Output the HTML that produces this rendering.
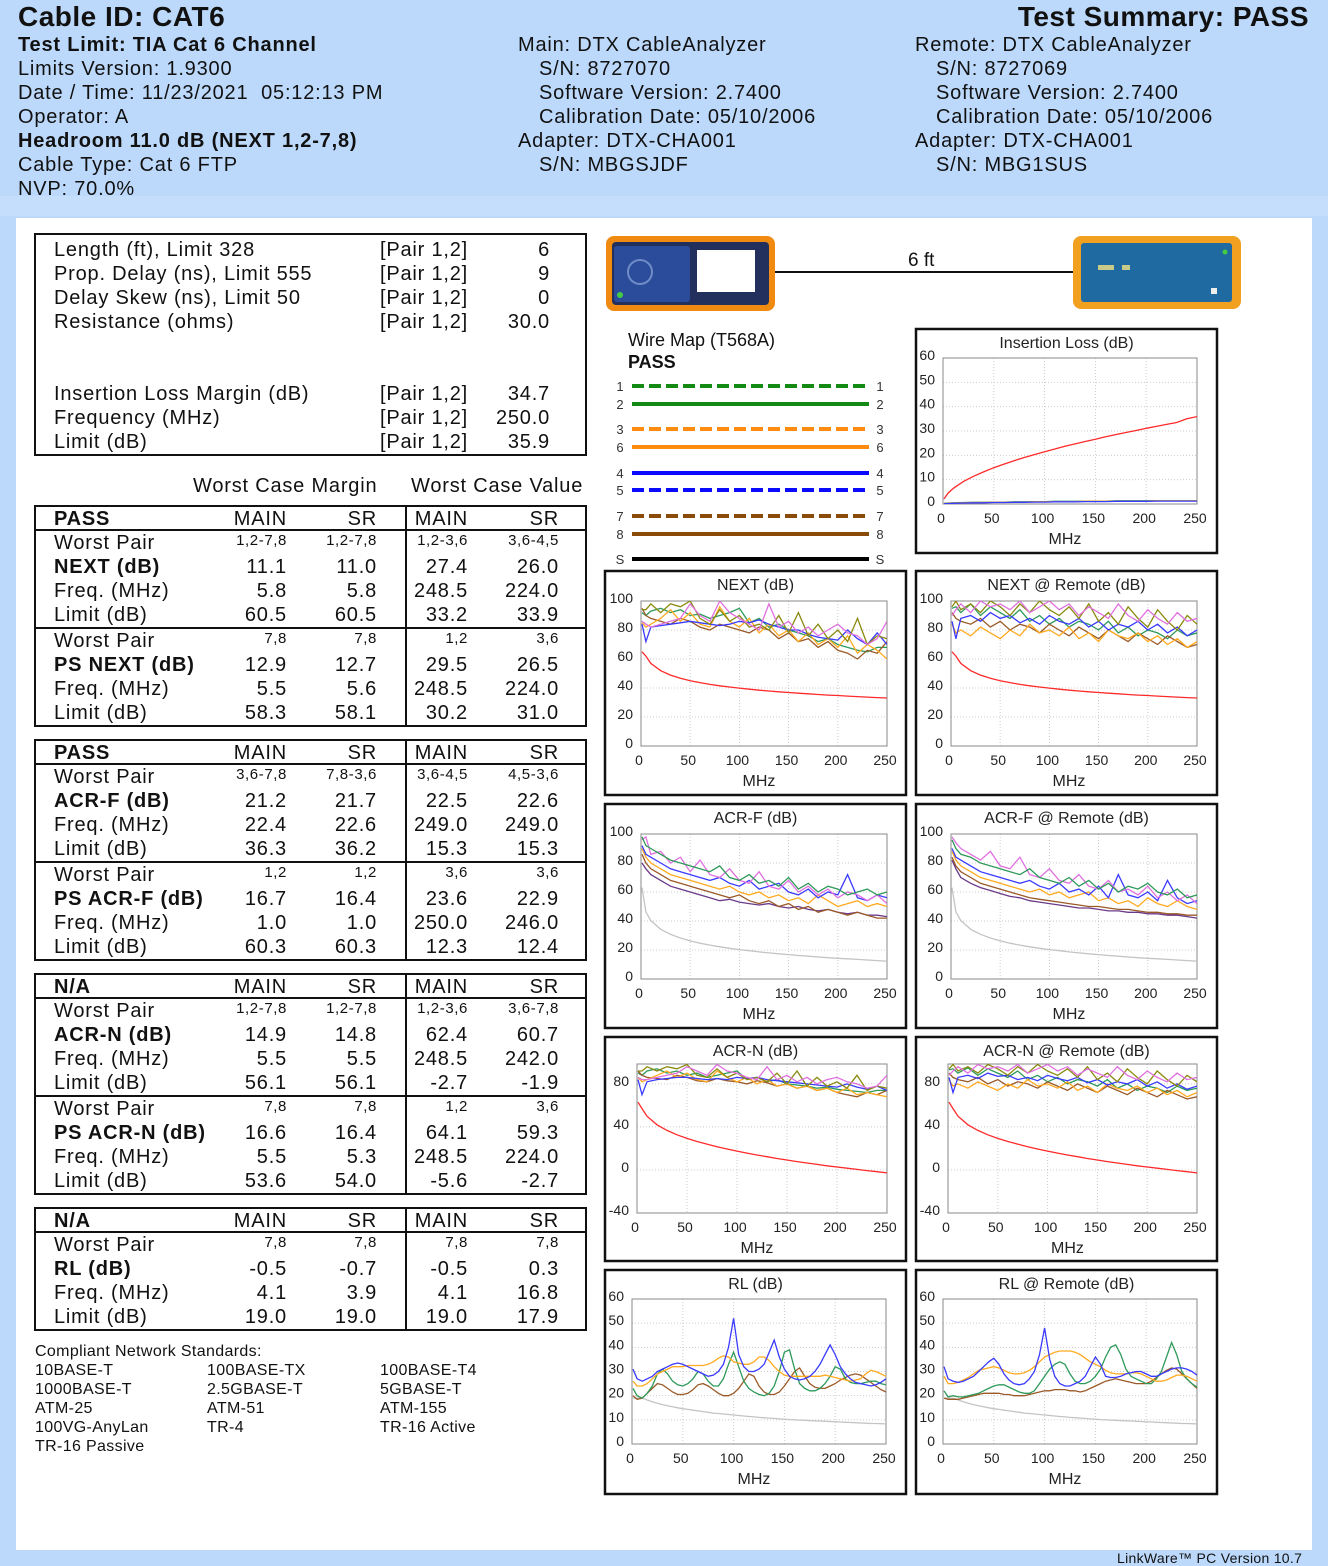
<!DOCTYPE html>
<html><head><meta charset="utf-8">
<style>
*{margin:0;padding:0;box-sizing:border-box}
body{width:1328px;height:1566px;background:#bcd9fb;font-family:"Liberation Sans",Arial,sans-serif;color:#111;position:relative;overflow:hidden}
.a{position:absolute;white-space:nowrap}
.h{font-size:20px;line-height:24px;letter-spacing:0.8px}
.b{font-weight:bold}
.blk{position:absolute;left:34px;width:553px;border:2px solid #111;background:#fff}
.row{position:relative;height:24px;font-size:20px;line-height:24px;letter-spacing:0.8px}
.hdr{border-bottom:2px solid #111}
.grp{border-bottom:2px solid #111}
.grp:last-child{border-bottom:none}
.row span{position:absolute;top:0}
.lb{left:18px}
.c1{right:298px}.c2{right:208px}.c3{right:117px}.c4{right:26px}
.sm{font-size:15px;line-height:20px;letter-spacing:0.6px}
.div{position:absolute;left:369px;top:0;bottom:0;width:2px;background:#111}
.std{font-size:16px;line-height:19px;letter-spacing:0.35px}
</style></head>
<body>
<div class="a" style="left:0;top:196px;width:1328px;height:20px;background:#c4defc"></div>
<div class="a" style="left:16px;top:218px;width:1296px;height:1332px;background:#fff"></div>

<div class="a b" style="left:18px;top:0;font-size:28px;line-height:34px;letter-spacing:0.5px">Cable ID: CAT6</div>
<div class="a b" style="right:19px;top:0;font-size:28px;line-height:34px;letter-spacing:0.5px">Test Summary: PASS</div>
<div class="a h" style="left:18px;top:33px">
<div class="b">Test Limit: TIA Cat 6 Channel</div><div>Limits Version: 1.9300</div><div>Date / Time: 11/23/2021&nbsp; 05:12:13 PM</div><div>Operator: A</div><div class="b">Headroom 11.0 dB (NEXT 1,2-7,8)</div><div>Cable Type: Cat 6 FTP</div><div>NVP: 70.0%</div></div>
<div class="a h" style="left:518px;top:33px">
<div>Main: DTX CableAnalyzer</div><div style="padding-left:21px">S/N: 8727070</div><div style="padding-left:21px">Software Version: 2.7400</div><div style="padding-left:21px">Calibration Date: 05/10/2006</div><div>Adapter: DTX-CHA001</div><div style="padding-left:21px">S/N: MBGSJDF</div></div>
<div class="a h" style="left:915px;top:33px">
<div>Remote: DTX CableAnalyzer</div><div style="padding-left:21px">S/N: 8727069</div><div style="padding-left:21px">Software Version: 2.7400</div><div style="padding-left:21px">Calibration Date: 05/10/2006</div><div>Adapter: DTX-CHA001</div><div style="padding-left:21px">S/N: MBG1SUS</div></div>

<div class="a" style="left:34px;top:233px;width:553px;height:223px;border:2px solid #111;background:#fff"></div>
<div class="a h" style="left:54px;top:238px"><div>Length (ft), Limit 328</div><div>Prop. Delay (ns), Limit 555</div><div>Delay Skew (ns), Limit 50</div><div>Resistance (ohms)</div><div style="height:48px"></div><div>Insertion Loss Margin (dB)</div><div>Frequency (MHz)</div><div>Limit (dB)</div></div>
<div class="a h" style="left:380px;top:238px"><div>[Pair 1,2]</div><div>[Pair 1,2]</div><div>[Pair 1,2]</div><div>[Pair 1,2]</div><div style="height:48px"></div><div>[Pair 1,2]</div><div>[Pair 1,2]</div><div>[Pair 1,2]</div></div>
<div class="a h" style="right:778px;top:238px;text-align:right"><div>6</div><div>9</div><div>0</div><div>30.0</div><div style="height:48px"></div><div>34.7</div><div>250.0</div><div>35.9</div></div>

<div class="a h" style="left:193px;top:474px">Worst Case Margin</div>
<div class="a h" style="left:411px;top:474px">Worst Case Value</div>

<!-- NEXT block -->
<div class="blk" style="top:505px">
<div class="div"></div>
<div class="row hdr"><span class="lb b">PASS</span><span class="c1">MAIN</span><span class="c2">SR</span><span class="c3">MAIN</span><span class="c4">SR</span></div>
<div class="grp"><div class="row"><span class="lb">Worst Pair</span><span class="c1 sm">1,2-7,8</span><span class="c2 sm">1,2-7,8</span><span class="c3 sm">1,2-3,6</span><span class="c4 sm">3,6-4,5</span></div>
<div class="row"><span class="lb b">NEXT (dB)</span><span class="c1">11.1</span><span class="c2">11.0</span><span class="c3">27.4</span><span class="c4">26.0</span></div>
<div class="row"><span class="lb">Freq. (MHz)</span><span class="c1">5.8</span><span class="c2">5.8</span><span class="c3">248.5</span><span class="c4">224.0</span></div>
<div class="row"><span class="lb">Limit (dB)</span><span class="c1">60.5</span><span class="c2">60.5</span><span class="c3">33.2</span><span class="c4">33.9</span></div></div>
<div class="grp"><div class="row"><span class="lb">Worst Pair</span><span class="c1 sm">7,8</span><span class="c2 sm">7,8</span><span class="c3 sm">1,2</span><span class="c4 sm">3,6</span></div>
<div class="row"><span class="lb b">PS NEXT (dB)</span><span class="c1">12.9</span><span class="c2">12.7</span><span class="c3">29.5</span><span class="c4">26.5</span></div>
<div class="row"><span class="lb">Freq. (MHz)</span><span class="c1">5.5</span><span class="c2">5.6</span><span class="c3">248.5</span><span class="c4">224.0</span></div>
<div class="row"><span class="lb">Limit (dB)</span><span class="c1">58.3</span><span class="c2">58.1</span><span class="c3">30.2</span><span class="c4">31.0</span></div></div>
</div>

<!-- ACR-F block -->
<div class="blk" style="top:739px">
<div class="div"></div>
<div class="row hdr"><span class="lb b">PASS</span><span class="c1">MAIN</span><span class="c2">SR</span><span class="c3">MAIN</span><span class="c4">SR</span></div>
<div class="grp"><div class="row"><span class="lb">Worst Pair</span><span class="c1 sm">3,6-7,8</span><span class="c2 sm">7,8-3,6</span><span class="c3 sm">3,6-4,5</span><span class="c4 sm">4,5-3,6</span></div>
<div class="row"><span class="lb b">ACR-F (dB)</span><span class="c1">21.2</span><span class="c2">21.7</span><span class="c3">22.5</span><span class="c4">22.6</span></div>
<div class="row"><span class="lb">Freq. (MHz)</span><span class="c1">22.4</span><span class="c2">22.6</span><span class="c3">249.0</span><span class="c4">249.0</span></div>
<div class="row"><span class="lb">Limit (dB)</span><span class="c1">36.3</span><span class="c2">36.2</span><span class="c3">15.3</span><span class="c4">15.3</span></div></div>
<div class="grp"><div class="row"><span class="lb">Worst Pair</span><span class="c1 sm">1,2</span><span class="c2 sm">1,2</span><span class="c3 sm">3,6</span><span class="c4 sm">3,6</span></div>
<div class="row"><span class="lb b">PS ACR-F (dB)</span><span class="c1">16.7</span><span class="c2">16.4</span><span class="c3">23.6</span><span class="c4">22.9</span></div>
<div class="row"><span class="lb">Freq. (MHz)</span><span class="c1">1.0</span><span class="c2">1.0</span><span class="c3">250.0</span><span class="c4">246.0</span></div>
<div class="row"><span class="lb">Limit (dB)</span><span class="c1">60.3</span><span class="c2">60.3</span><span class="c3">12.3</span><span class="c4">12.4</span></div></div>
</div>

<!-- ACR-N block -->
<div class="blk" style="top:973px">
<div class="div"></div>
<div class="row hdr"><span class="lb b">N/A</span><span class="c1">MAIN</span><span class="c2">SR</span><span class="c3">MAIN</span><span class="c4">SR</span></div>
<div class="grp"><div class="row"><span class="lb">Worst Pair</span><span class="c1 sm">1,2-7,8</span><span class="c2 sm">1,2-7,8</span><span class="c3 sm">1,2-3,6</span><span class="c4 sm">3,6-7,8</span></div>
<div class="row"><span class="lb b">ACR-N (dB)</span><span class="c1">14.9</span><span class="c2">14.8</span><span class="c3">62.4</span><span class="c4">60.7</span></div>
<div class="row"><span class="lb">Freq. (MHz)</span><span class="c1">5.5</span><span class="c2">5.5</span><span class="c3">248.5</span><span class="c4">242.0</span></div>
<div class="row"><span class="lb">Limit (dB)</span><span class="c1">56.1</span><span class="c2">56.1</span><span class="c3">-2.7</span><span class="c4">-1.9</span></div></div>
<div class="grp"><div class="row"><span class="lb">Worst Pair</span><span class="c1 sm">7,8</span><span class="c2 sm">7,8</span><span class="c3 sm">1,2</span><span class="c4 sm">3,6</span></div>
<div class="row"><span class="lb b">PS ACR-N (dB)</span><span class="c1">16.6</span><span class="c2">16.4</span><span class="c3">64.1</span><span class="c4">59.3</span></div>
<div class="row"><span class="lb">Freq. (MHz)</span><span class="c1">5.5</span><span class="c2">5.3</span><span class="c3">248.5</span><span class="c4">224.0</span></div>
<div class="row"><span class="lb">Limit (dB)</span><span class="c1">53.6</span><span class="c2">54.0</span><span class="c3">-5.6</span><span class="c4">-2.7</span></div></div>
</div>

<!-- RL block -->
<div class="blk" style="top:1207px">
<div class="div"></div>
<div class="row hdr"><span class="lb b">N/A</span><span class="c1">MAIN</span><span class="c2">SR</span><span class="c3">MAIN</span><span class="c4">SR</span></div>
<div class="grp"><div class="row"><span class="lb">Worst Pair</span><span class="c1 sm">7,8</span><span class="c2 sm">7,8</span><span class="c3 sm">7,8</span><span class="c4 sm">7,8</span></div>
<div class="row"><span class="lb b">RL (dB)</span><span class="c1">-0.5</span><span class="c2">-0.7</span><span class="c3">-0.5</span><span class="c4">0.3</span></div>
<div class="row"><span class="lb">Freq. (MHz)</span><span class="c1">4.1</span><span class="c2">3.9</span><span class="c3">4.1</span><span class="c4">16.8</span></div>
<div class="row"><span class="lb">Limit (dB)</span><span class="c1">19.0</span><span class="c2">19.0</span><span class="c3">19.0</span><span class="c4">17.9</span></div></div>
</div>

<div class="a std" style="left:35px;top:1342px">Compliant Network Standards:</div>
<div class="a std" style="left:35px;top:1361px"><div>10BASE-T</div><div>1000BASE-T</div><div>ATM-25</div><div>100VG-AnyLan</div><div>TR-16 Passive</div></div>
<div class="a std" style="left:207px;top:1361px"><div>100BASE-TX</div><div>2.5GBASE-T</div><div>ATM-51</div><div>TR-4</div></div>
<div class="a std" style="left:380px;top:1361px"><div>100BASE-T4</div><div>5GBASE-T</div><div>ATM-155</div><div>TR-16 Active</div></div>

<div class="a" style="left:1117px;top:1550px;font-size:14px;line-height:16px;letter-spacing:0.3px">LinkWare™ PC Version 10.7</div>

<svg id="svg" class="a" style="left:0;top:0" width="1328" height="1566" font-family="Liberation Sans, Arial, sans-serif">
 <g>
  <rect x="606" y="236" width="169" height="75" rx="8" fill="#f08a10"/>
  <rect x="612" y="242" width="157" height="63" rx="4" fill="#23305e"/>
  <rect x="614" y="246" width="76" height="56" rx="3" fill="#2a4c9a"/>
  <circle cx="640" cy="272" r="12" fill="none" stroke="#6f8cc8" stroke-width="2"/>
  <rect x="697" y="250" width="58" height="42" fill="#fff"/>
  <circle cx="620" cy="295" r="3" fill="#4c4"/>
 </g>
 <line x1="775" y1="272" x2="1073" y2="272" stroke="#111" stroke-width="2"/>
 <text x="908" y="266" font-size="19" fill="#111">6 ft</text>
 <g>
  <rect x="1073" y="236" width="168" height="73" rx="8" fill="#f2a020"/>
  <rect x="1081" y="243" width="151" height="59" rx="3" fill="#1f6aa0"/>
  <circle cx="1225" cy="252" r="2.5" fill="#4c4"/>
  <rect x="1098" y="265" width="16" height="5" fill="#c9c98a"/>
  <rect x="1122" y="265" width="8" height="5" fill="#c9c98a"/>
  <rect x="1211" y="288" width="6" height="6" fill="#eee"/>
 </g>
 <text x="628" y="346" font-size="18" fill="#111">Wire Map (T568A)</text>
 <text x="628" y="368" font-size="18" font-weight="bold" fill="#111">PASS</text>
 <g id="wiremap"></g>
 <g id="charts"></g>
</svg>

<script>
// ---------- Wire map data ----------
const wireLabels = ['1','2','3','6','4','5','7','8','S'];
const wireColors = ['#138a13','#138a13','#ff8c10','#ff8c10','#0a0aff','#0a0aff','#8a4a08','#8a4a08','#000'];
const wireDashed = [1,0,1,0,0,1,1,0,0];
const wireY = [386,404,429,447,473,490,516,534,559];

// ---------- Chart data ----------
const xTicks = [0,50,100,150,200,250];
const yTicksIL = [0,10,20,30,40,50,60];
const yTicksPct = [0,20,40,60,80,100];
const yTicksACRN = [-40,0,40,80];
const yTicksRL = [0,10,20,30,40,50,60];

const freqA = [1,5,10,20,30,40,50,60,70,80,90,100,110,120,130,140,150,160,170,180,190,200,210,220,230,240,250];
const rlFreq = [1,5,10,15,20,25,30,35,40,45,50,55,60,65,70,75,80,85,90,95,100,105,110,115,120,125,130,135,140,145,150,155,160,165,170,175,180,185,190,195,200,205,210,215,220,225,230,235,240,245,250];

const ilLimit = [2.1,4.5,6.4,9.2,11.4,13.2,14.9,16.4,17.8,19.1,20.3,21.5,22.6,23.7,24.7,25.7,26.6,27.6,28.5,29.4,30.2,31.1,31.9,32.7,33.5,35.0,35.9];
const ilBlue = [0.1,0.2,0.3,0.4,0.5,0.5,0.6,0.6,0.7,0.7,0.8,0.8,0.9,0.9,0.9,1.0,1.0,1.0,1.1,1.1,1.1,1.1,1.2,1.2,1.2,1.2,1.2];
const ilOrange = [0.2,0.3,0.4,0.5,0.6,0.6,0.7,0.7,0.8,0.8,0.9,0.9,1.0,1.0,1.0,1.1,1.1,1.1,1.2,1.2,1.2,1.2,1.3,1.3,1.3,1.3,1.3];
const ilGreen = [0.3,0.4,0.5,0.6,0.7,0.7,0.8,0.8,0.9,0.9,1.0,1.0,1.1,1.1,1.1,1.2,1.2,1.2,1.3,1.3,1.3,1.3,1.4,1.4,1.4,1.4,1.4];

const nextLimit = [65,62,57,51.9,48.9,46.7,45,43.7,42.5,41.5,40.7,39.9,39.2,38.5,37.9,37.4,36.9,36.4,36,35.5,35.1,34.8,34.4,34.1,33.7,33.4,33.1];
const nextBlue = [84,72,82,83,84,85,86,85,84,83,84,86,85,87,84,82,80,80,77,75,74,73,80,74,70,78,70];
const nextGreen = [92,90,93,95,92,94,90,91,88,90,92,95,85,88,82,84,80,78,76,72,74,70,68,66,65,68,68];
const nextOrange = [85,82,84,88,94,86,92,84,82,96,86,82,88,78,84,76,80,72,78,70,74,68,76,64,70,66,60];
const nextBrown = [95,90,88,86,84,88,86,82,80,84,82,80,78,82,80,74,78,72,74,68,72,66,64,60,66,64,72];
const nextOlive = [94,94,98,92,98,96,100,88,84,94,86,90,82,84,80,90,78,92,76,84,74,80,72,88,70,76,74];
const nextPink = [86,84,82,84,86,88,98,90,86,100,92,88,84,80,98,82,86,78,82,76,80,84,78,76,70,74,86];

const nextRBlue = [86,74,88,90,86,92,88,90,85,88,84,90,86,84,88,82,86,80,84,82,86,80,84,78,82,76,80];
const nextRGreen = [95,96,92,98,90,96,92,88,94,86,90,84,88,82,86,84,80,86,78,82,76,80,78,74,80,76,78];
const nextROrange = [84,78,80,76,82,78,74,80,76,84,78,80,76,82,74,78,72,80,76,74,78,72,76,70,74,68,72];
const nextRBrown = [92,88,86,84,88,82,86,80,84,82,78,84,80,76,82,78,74,80,76,72,78,74,70,76,72,68,70];
const nextROlive = [96,100,94,98,92,100,96,90,98,92,100,94,90,96,88,98,86,92,84,96,88,82,94,86,80,90,84];
const nextRPink = [90,94,98,92,100,96,98,94,100,92,96,100,94,98,90,96,92,88,98,90,86,94,88,84,92,86,88];

const acrfLimit = [63,46.3,40.3,34.3,30.8,28.3,26.3,24.7,23.4,22.2,21.2,20.3,19.5,18.7,18,17.4,16.8,16.2,15.7,15.2,14.7,14.3,13.9,13.5,13.1,12.7,12.3];
const acrfGreen = [98,92,90,86,82,80,78,76,74,78,70,68,72,66,68,64,70,62,66,60,64,62,58,60,62,58,60];
const acrfPink = [96,98,86,88,80,84,74,82,72,70,76,68,66,74,64,62,68,60,64,58,62,56,60,58,54,58,52];
const acrfBlue = [92,86,84,80,76,74,72,70,68,70,66,64,68,62,64,66,60,58,62,56,60,58,72,56,54,58,56];
const acrfOrange = [90,84,80,76,72,70,68,66,64,62,64,60,58,60,56,58,54,56,52,58,54,50,52,54,50,52,50];
const acrfBrown = [86,80,76,72,68,66,64,62,60,58,56,58,54,52,54,50,52,48,50,46,48,46,44,46,44,42,42];
const acrfPurple = [80,76,72,68,64,62,60,58,56,54,55,53,52,51,52,50,49,50,48,47,48,46,45,46,44,44,43];

const acrfRGreen = [96,90,86,84,80,78,76,74,72,76,70,68,66,70,64,68,62,66,60,64,62,66,60,58,62,56,58];
const acrfRPink = [98,94,90,86,82,88,78,76,84,72,70,76,68,66,72,64,62,68,60,62,58,64,56,60,54,58,52];
const acrfRBlue = [90,84,82,78,74,72,70,68,66,68,64,62,66,60,62,58,64,56,72,58,56,60,54,68,56,52,54];
const acrfROrange = [88,82,78,74,70,68,66,64,62,60,62,58,60,56,58,60,54,56,52,54,50,56,52,50,54,50,48];
const acrfRBrown = [84,78,74,70,66,64,62,60,58,56,55,54,53,52,51,50,50,49,48,48,47,46,46,45,45,44,44];
const acrfRPurple = [82,76,70,66,63,61,59,57,56,54,53,52,51,50,49,49,48,47,47,46,46,45,45,44,44,43,42];

const acrnLimit = [63,57,50,42,36.8,32.7,29.3,26.5,24,21.6,19.5,17.5,15.7,13.9,12.3,10.7,9.3,7.8,6.5,5.2,3.9,2.8,1.6,0.5,-0.6,-1.6,-2.7];
const acrnBlue = [84,70,82,84,85,86,86,85,84,85,84,86,85,86,84,83,82,81,80,79,78,77,80,77,75,78,74];
const acrnGreen = [90,88,92,94,90,92,88,90,86,88,90,92,84,86,82,84,80,79,78,76,77,75,74,73,72,74,74];
const acrnOrange = [86,82,84,88,92,86,90,84,82,92,86,82,86,80,84,78,80,76,78,74,76,72,76,70,72,70,68];
const acrnBrown = [92,88,86,85,84,88,86,83,82,85,83,82,80,83,81,78,80,76,78,74,76,72,70,68,72,70,74];
const acrnOlive = [92,92,96,92,96,94,98,88,86,94,86,90,84,86,82,90,80,92,78,86,78,82,76,88,74,78,76];
const acrnPink = [86,84,84,86,88,90,96,92,88,98,92,90,86,84,96,84,88,82,86,80,84,86,82,80,76,78,88];

const acrnRBlue = [86,72,86,88,85,90,87,88,84,86,83,88,85,83,86,81,84,79,82,80,84,78,82,76,80,75,78];
const acrnRGreen = [93,94,90,95,88,94,90,86,92,84,88,82,86,80,84,82,78,84,76,80,74,78,76,72,78,74,76];
const acrnROrange = [84,78,80,76,82,78,74,80,76,84,78,80,76,82,74,78,72,80,76,74,78,72,76,70,74,68,72];
const acrnRBrown = [90,86,84,82,86,80,84,78,82,80,76,82,78,74,80,76,72,78,74,70,76,72,68,74,70,66,68];
const acrnROlive = [94,98,92,96,90,98,94,88,96,90,98,92,88,94,86,96,84,90,82,94,86,80,92,84,78,88,82];
const acrnRPink = [88,92,96,90,98,94,96,92,98,90,94,98,92,96,88,94,90,86,96,88,84,92,86,82,90,84,86];

const rlLimit = [19,19,19,18.2,17.5,16.9,16.3,15.8,15.4,15,14.6,14.3,14,13.7,13.4,13.1,12.8,12.6,12.4,12.2,12,11.8,11.6,11.4,11.2,11,10.9,10.7,10.6,10.4,10.3,10.1,10,9.9,9.8,9.7,9.6,9.5,9.4,9.3,9.2,9.1,9,8.9,8.8,8.7,8.6,8.5,8.5,8.4,8.3];
const rlBlue = [31,27,26,27,28,30,31,32,33,33.5,33,32,31,30,29,28,28.5,30,33,40,52,37,32,30,30,31,33,38,43,36,31,28,27,26.5,27,28,30,33,37,41,37,32,29,27,25.5,25,24.5,24,24.5,25.5,27];
const rlOrange = [26,24,24,25,27,29,30,31,32,32,32,32.5,32.5,32.5,32.5,33,34,35.5,36.5,36,34,33.5,33,33,34,36,36,34.5,32,30,28.5,28,28,28,28,28,28,28,28.5,28,27.5,27,26.5,26,26.5,27,29,30.5,30,29,28];
const rlGreen = [23,20,19,21,24,29,31,29,26,24.5,24,25,27,30,29,26,24,24,27,33,38,32,26,23,21.5,20.5,20,21,24,30,38,39,31,25,23,22,22,23,25,28,32,31,27,25.5,25,25,25.5,26,26,25,24.5];
const rlBrown = [20,18.5,19,21,23,25,24.5,23,21.5,20.5,20.5,21,22.5,24.5,25,24,22.5,21,20,20,21,23,26,29,28,24,21.5,20.5,20.5,21.5,24,27,30,31.5,28,25,23.5,23,23,24,25,26.5,27.5,28.5,29,28.5,27,25.5,24,22.5,21.5];

const rlRBlue = [32,27,26,25.5,26,27,28,30,32,34,35.5,33,29,26.5,25,24.5,25,27,30,37,48,35,28,25,24,24,25,26,28,32,36,33,28,27.5,27.5,28,29,29.5,30,30,29,28,28,29,30,31,31.5,31.5,31,30,28.5];
const rlROrange = [28,25,25,25.5,26.5,27.5,29,30.5,31,31.5,32,31.5,30.5,29.5,29,29,29.5,30.5,32,34,36,37,38,38.5,38.5,38.5,38,37,35.5,34,33,32,30.5,29.5,29,29,29,29.5,29.5,29,28,27,26,26,26.5,27.5,28.5,28.5,28,27,26];
const rlRGreen = [22,19.5,20,19.5,19.5,20,20.5,21,22,23,24,24.5,24.5,23.5,22.5,21.5,21,21,22,25,28,31,33,34,33,29,26,25,25,26,28,31,36,40,41,37,31,28,27,26,25,25,27,30,36,42,37,30,27,25,23.5];
const rlRBrown = [19,18.5,18.5,18.5,19,19.5,20,20.5,21,21,21,21,20.5,20.5,20,20,20,20.5,21,21.5,22,22,22.5,22.5,22.5,22,22,21.5,22,23,24,25,26,26.5,27,26.5,26,25.5,25,25,25,26,27.5,29,30.5,31.5,31,29,27,25,23];

// ---------- Colors ----------
const C = {blue:'#3a3aff', green:'#2e9a5a', orange:'#ffaa20', brown:'#9a5a28', olive:'#8a8a10', pink:'#e070e0', purple:'#6a3a8a', red:'#ff2a2a', gray:'#c4c4c4'};

const NS = 'http://www.w3.org/2000/svg';
function mk(tag, attrs, parent){
  const e = document.createElementNS(NS, tag);
  for (const k in attrs) e.setAttribute(k, attrs[k]);
  if (parent) parent.appendChild(e);
  return e;
}

// Wire map
const wm = document.getElementById('wiremap');
for (let i = 0; i < wireLabels.length; i++) {
  const ln = mk('line', {x1:632, x2:869, y1:wireY[i], y2:wireY[i], stroke:wireColors[i], 'stroke-width':4}, wm);
  if (wireDashed[i]) ln.setAttribute('stroke-dasharray', '12 5');
  
  
  const t1 = mk('text', {x:620, y:wireY[i] + 5, 'font-size':13, 'text-anchor':'middle', fill:'#333'}, wm);
  t1.textContent = wireLabels[i];
  
  
  const t2 = mk('text', {x:880, y:wireY[i] + 5, 'font-size':13, 'text-anchor':'middle', fill:'#333'}, wm);
  t2.textContent = wireLabels[i];
  
  
}

// Charts
const chartsG = document.getElementById('charts');
let clipN = 0;
function chart(name, title, box, plot, yMin, yMax, yTicks, freq, series){
  const g = mk('g', {}, chartsG);
  
  
  const bx = mk('rect', {x:box[0]+1, y:box[1]+1, width:box[2]-2, height:box[3]-2, fill:'#fff', stroke:'#111', 'stroke-width':2.5}, g);
  
  
  const [x0,y0,x1,y1] = plot;
  const sx = f => x0 + f / 250 * (x1 - x0);
  const sy = v => y1 - (v - yMin) / (yMax - yMin) * (y1 - y0);
  const tt = mk('text', {x:(box[0]*2+box[2])/2, y:box[1]+20, 'font-size':16, 'text-anchor':'middle', fill:'#222'}, g);
  tt.textContent = title;
  
  
  for (const v of yTicks) {
    const gl = mk('line', {x1:x0, x2:x1, y1:sy(v), y2:sy(v), stroke:'#ccc', 'stroke-width':1, 'stroke-dasharray':'1 2'}, g);
    
    
    const tl = mk('text', {x:x0 - 8, y:sy(v) + 2, 'font-size':14, 'text-anchor':'end', fill:'#222'}, g);
    tl.textContent = v;
    
    
  }
  for (const f of xTicks) {
    const gl = mk('line', {x1:sx(f), x2:sx(f), y1:y0, y2:y1, stroke:'#ccc', 'stroke-width':1, 'stroke-dasharray':'1 2'}, g);
    
    
    const tl = mk('text', {x:sx(f) - 2, y:y1 + 19, 'font-size':14, 'text-anchor':'middle', fill:'#222'}, g);
    tl.textContent = f;
    
    
  }
  const fr = mk('rect', {x:x0, y:y0, width:x1-x0, height:y1-y0, fill:'none', stroke:'#888', 'stroke-width':1}, g);
  
  
  const xl = mk('text', {x:(x0+x1)/2 - 5, y:y1 + 40, 'font-size':16, 'text-anchor':'middle', fill:'#222'}, g);
  xl.textContent = 'MHz';
  
  
  const cid = 'clip' + (clipN++);
  const cp = mk('clipPath', {id:cid}, g);
  mk('rect', {x:x0, y:y0, width:x1-x0, height:y1-y0}, cp);
  for (const [arr, col] of series) {
    const pts = [];
    for (let i = 0; i < arr.length && i < freq.length; i++) pts.push(sx(freq[i]).toFixed(1) + ',' + sy(arr[i]).toFixed(1));
    const pl = mk('polyline', {points:pts.join(' '), fill:'none', stroke:col, 'stroke-width':1.3, 'clip-path':'url(#' + cid + ')'}, g);
    
    
  }
}

chart('insertion-loss-chart', 'Insertion Loss (dB)', [915,328,303,226], [943,358,1197,504], 0, 60, yTicksIL, freqA,
  [[ilLimit,C.red],[ilGreen,C.green],[ilOrange,C.orange],[ilBlue,C.blue]]);
chart('next-chart', 'NEXT (dB)', [604,570,303,226], [641,601,887,746], 0, 100, yTicksPct, freqA,
  [[nextLimit,C.red],[nextGreen,C.green],[nextBrown,C.brown],[nextOrange,C.orange],[nextBlue,C.blue],[nextOlive,C.olive],[nextPink,C.pink]]);
chart('next-remote-chart', 'NEXT @ Remote (dB)', [915,570,303,226], [951,601,1197,746], 0, 100, yTicksPct, freqA,
  [[nextLimit,C.red],[nextRGreen,C.green],[nextRBrown,C.brown],[nextROrange,C.orange],[nextRBlue,C.blue],[nextROlive,C.olive],[nextRPink,C.pink]]);
chart('acr-f-chart', 'ACR-F (dB)', [604,803,303,226], [641,834,887,979], 0, 100, yTicksPct, freqA,
  [[acrfLimit,C.gray],[acrfPurple,C.purple],[acrfBrown,C.brown],[acrfOrange,C.orange],[acrfBlue,C.blue],[acrfPink,C.pink],[acrfGreen,C.green]]);
chart('acr-f-remote-chart', 'ACR-F @ Remote (dB)', [915,803,303,226], [951,834,1197,979], 0, 100, yTicksPct, freqA,
  [[acrfLimit,C.gray],[acrfRPurple,C.purple],[acrfRBrown,C.brown],[acrfROrange,C.orange],[acrfRBlue,C.blue],[acrfRPink,C.pink],[acrfRGreen,C.green]]);
chart('acr-n-chart', 'ACR-N (dB)', [604,1036,303,226], [637,1064,887,1213], -40, 98.5, yTicksACRN, freqA,
  [[acrnLimit,C.red],[acrnGreen,C.green],[acrnBrown,C.brown],[acrnOrange,C.orange],[acrnBlue,C.blue],[acrnOlive,C.olive],[acrnPink,C.pink]]);
chart('acr-n-remote-chart', 'ACR-N @ Remote (dB)', [915,1036,303,226], [948,1064,1197,1213], -40, 98.5, yTicksACRN, freqA,
  [[acrnLimit,C.red],[acrnRGreen,C.green],[acrnRBrown,C.brown],[acrnROrange,C.orange],[acrnRBlue,C.blue],[acrnROlive,C.olive],[acrnRPink,C.pink]]);
chart('rl-chart', 'RL (dB)', [604,1269,303,226], [632,1299,886,1444], 0, 60, yTicksRL, rlFreq,
  [[rlLimit,C.gray],[rlBrown,C.brown],[rlGreen,C.green],[rlOrange,C.orange],[rlBlue,C.blue]]);
chart('rl-remote-chart', 'RL @ Remote (dB)', [915,1269,303,226], [943,1299,1197,1444], 0, 60, yTicksRL, rlFreq,
  [[rlLimit,C.gray],[rlRBrown,C.brown],[rlRGreen,C.green],[rlROrange,C.orange],[rlRBlue,C.blue]]);
</script>
</body></html>
